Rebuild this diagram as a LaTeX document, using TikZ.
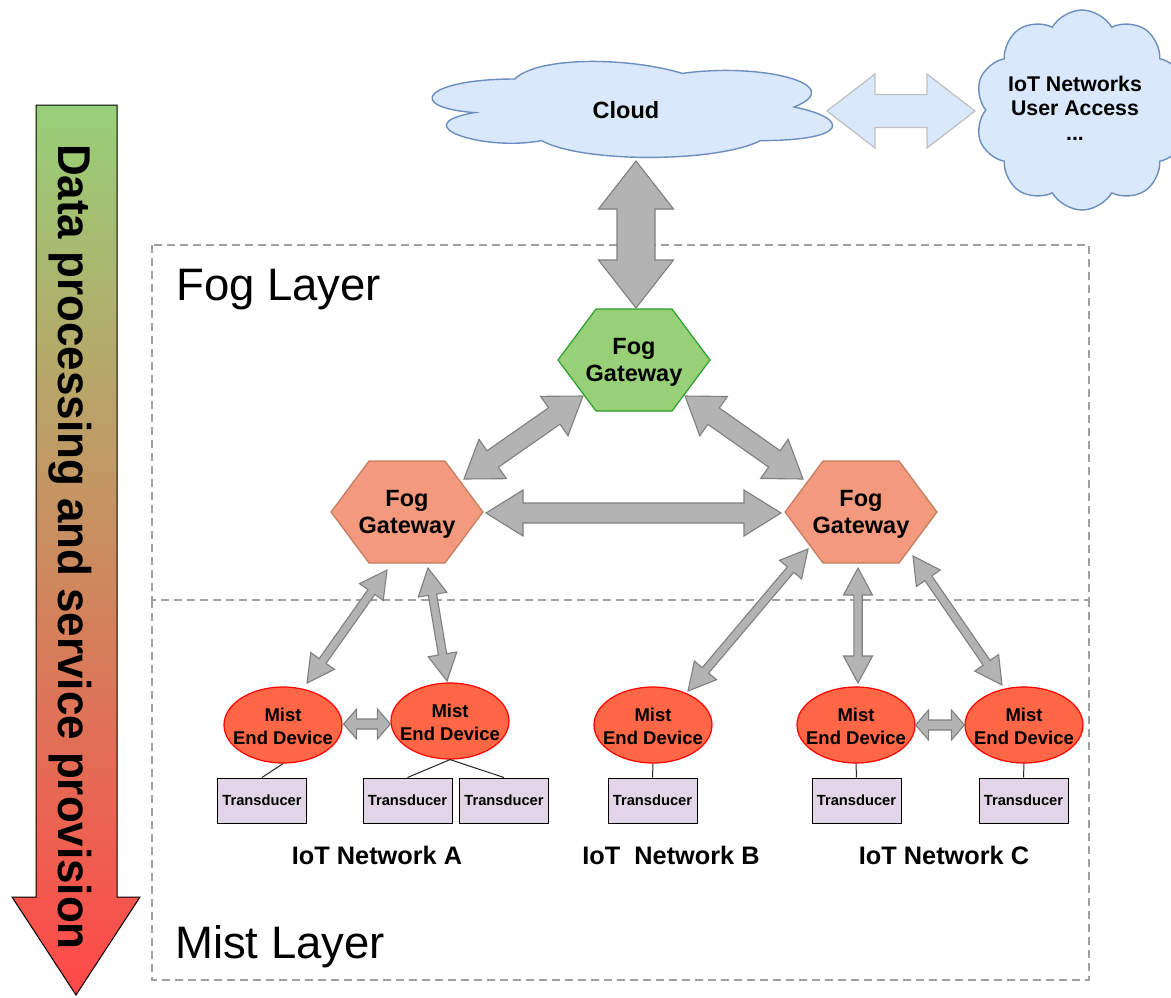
\documentclass[tikz,border=0pt]{standalone}
\usepackage{fontspec}
\setmainfont{Liberation Sans}
\usetikzlibrary{shapes.symbols,shapes.geometric,calc}

\definecolor{cloudfill}{HTML}{DAE8FC}
\definecolor{cloudline}{HTML}{6C8EBF}
\definecolor{arrowfill}{HTML}{B3B3B3}
\definecolor{arrowline}{HTML}{7F7F7F}
\definecolor{lightline}{HTML}{C0C0C0}
\definecolor{fogtop}{HTML}{97D077}
\definecolor{fogtopline}{HTML}{2D9C2D}
\definecolor{fogfill}{HTML}{F3997D}
\definecolor{fogline}{HTML}{C47A5E}
\definecolor{mistfill}{HTML}{FF6746}
\definecolor{mistline}{HTML}{FF0000}
\definecolor{transfill}{HTML}{E1D5E7}
\definecolor{layerline}{HTML}{A0A0A0}
\definecolor{gradtop}{HTML}{97D077}
\definecolor{gradbottom}{HTML}{FF4848}

% double-headed block arrow between two named coordinates
% #1 extra style, #2 from, #3 to, #4 shaft half width, #5 head half width, #6 head length
\makeatletter
\newcommand\fatarrow[6][]{%
  \pgfpointdiff{\pgfpointanchor{#2}{center}}{\pgfpointanchor{#3}{center}}%
  \edef\fa@dx{\the\pgf@x}\edef\fa@dy{\the\pgf@y}%
  \pgfmathsetmacro\fa@len{veclen(\fa@dx,\fa@dy)}%
  \pgfmathsetmacro\fa@ang{atan2(\fa@dy,\fa@dx)}%
  \pgfmathsetmacro\fa@m{\fa@len-#6}%
  \draw[bigarrow,#1,shift={(#2)},rotate=\fa@ang]
    (0pt,0pt) -- (#6pt,#5pt) -- (#6pt,#4pt) -- (\fa@m pt,#4pt) -- (\fa@m pt,#5pt)
    -- (\fa@len pt,0pt) -- (\fa@m pt,-#5pt) -- (\fa@m pt,-#4pt) -- (#6pt,-#4pt)
    -- (#6pt,-#5pt) -- cycle;}
\makeatother

% flat-topped hexagon around a named coordinate
\newcommand\hexshape[2]{%
  \draw[#2] ([shift={(-76,0)}]#1) -- ([shift={(-38,-51)}]#1) -- ([shift={(38,-51)}]#1)
    -- ([shift={(76,0)}]#1) -- ([shift={(38,51)}]#1) -- ([shift={(-38,51)}]#1) -- cycle;}

\tikzset{
  bigarrow/.style={fill=arrowfill, draw=arrowline, line width=1.1pt, line join=miter},
  lightarrow/.style={fill=cloudfill, draw=lightline, line width=1.3pt},
  layerbox/.style={draw=layerline, line width=2pt, dash pattern=on 8pt off 5pt},
  cloudbody/.style={fill=cloudfill, draw=cloudline, line width=1.4pt},
  topgw/.style={fill=fogtop, draw=fogtopline, line width=1.2pt},
  sidegw/.style={fill=fogfill, draw=fogline, line width=1.2pt},
  gwtext/.style={align=center, inner sep=0pt, font=\fontsize{23.5}{27}\selectfont\bfseries},
  mist/.style={ellipse, fill=mistfill, draw=mistline, line width=1.2pt,
    minimum width=118pt, minimum height=76pt, inner sep=0pt},
  misttext/.style={align=center, inner sep=0pt, font=\fontsize{18.5}{23}\selectfont\bfseries},
  trans/.style={rectangle, fill=transfill, draw=black, line width=1pt,
    minimum width=89pt, minimum height=45pt, inner sep=0pt,
    font=\fontsize{14.7}{17}\selectfont\bfseries},
  link/.style={draw=black!85, line width=1pt},
  netlabel/.style={inner sep=0pt, font=\fontsize{25.3}{29}\selectfont\bfseries},
  layerlabel/.style={anchor=base west, inner sep=0pt, font=\fontsize{45.5}{50}\selectfont},
}

\begin{document}
\begin{tikzpicture}[x=1pt, y=-1pt]
\useasboundingbox (0,0) rectangle (1171,997);

% layer frames
\draw[layerbox] (152,245) rectangle (1089,600);
\draw[layerbox] (152,600) -- (152,980) -- (1089,980) -- (1089,600);
\node[layerlabel] (foglabel) at (176,300) {Fog Layer};
\node[layerlabel] (mistlabel) at (175,958) {Mist Layer};

% direction arrow on the left
\shade[top color=gradtop, bottom color=gradbottom]
  (36,105) -- (117,105) -- (117,897) -- (140,897) -- (76,995) -- (12,897) -- (36,897) -- cycle;
\draw[line width=1pt, black]
  (36,105) -- (117,105) -- (117,897) -- (140,897) -- (76,995) -- (12,897) -- (36,897) -- cycle;
\node[rotate=-90, anchor=base, inner sep=0pt, font=\fontsize{46}{50}\selectfont\bfseries]
  (flow) at (58,547) {\scalebox{0.955}[1]{Data processing and service provision}};

% cloud
\begin{scope}[shift={(403,51)}, x=447pt, y=-112pt]
  \draw[cloudbody] (0.25,0.25)
    .. controls (0.05,0.25) and (0,0.5) .. (0.16,0.55)
    .. controls (0,0.66) and (0.18,0.9) .. (0.31,0.8)
    .. controls (0.4,1) and (0.7,1) .. (0.8,0.8)
    .. controls (1,0.8) and (1,0.6) .. (0.875,0.5)
    .. controls (1,0.3) and (0.8,0.1) .. (0.625,0.2)
    .. controls (0.5,0.05) and (0.3,0.05) .. (0.25,0.25) -- cycle;
\end{scope}
\node[inner sep=0pt, font=\fontsize{23.5}{27}\selectfont\bfseries] (cloud) at (626,110) {Cloud};

% user access cloud
\node[cloud, cloud puffs=10, cloud puff arc=120, aspect=1, minimum width=214pt,
  minimum height=200pt, cloudbody] (accesscloud) at (1082,110) {};
\node[align=center, inner sep=0pt, font=\fontsize{21.3}{24.5}\selectfont\bfseries]
  (access) at (1075,108) {IoT Networks\\User Access\\...};

% fog gateways
\coordinate (hexT) at (634,360);
\coordinate (hexL) at (407,512);
\coordinate (hexR) at (861,512);
\hexshape{hexT}{topgw}
\hexshape{hexL}{sidegw}
\hexshape{hexR}{sidegw}
\node[gwtext] (gwT) at ([shift={(0,2)}]hexT) {Fog\\Gateway};
\node[gwtext] (gwL) at ([shift={(0,2)}]hexL) {Fog\\Gateway};
\node[gwtext] (gwR) at ([shift={(0,2)}]hexR) {Fog\\Gateway};

% mist end devices
\node[mist] (A1) at (283,725) {};
\node[mist] (A2) at (450,721) {};
\node[mist] (B)  at (653,725) {};
\node[mist] (C1) at (856,725) {};
\node[mist] (C2) at (1024,725) {};
\foreach \m in {A1,A2,B,C1,C2}
  \node[misttext] at ([shift={(0,1.5)}]\m) {Mist\\End Device};

% transducers
\node[trans] (tA1)  at (262,800.5) {Transducer};
\node[trans] (tA2a) at (407.5,800.5) {Transducer};
\node[trans] (tA2b) at (504,800.5) {Transducer};
\node[trans] (tB)   at (652.5,800.5) {Transducer};
\node[trans] (tC1)  at (856.5,800.5) {Transducer};
\node[trans] (tC2)  at (1023.5,800.5) {Transducer};
\draw[link] (A1.south) -- (tA1.north);
\draw[link] (A2.south) -- (tA2a.north);
\draw[link] (A2.south) -- (tA2b.north);
\draw[link] (B.south) -- (tB.north);
\draw[link] (C1.south) -- (tC1.north);
\draw[link] (C2.south) -- (tC2.north);

% network names
\node[netlabel] (netA) at (377,855) {IoT Network A};
\node[netlabel] (netB) at (671,855) {IoT\ \ Network B};
\node[netlabel] (netC) at (944,855) {IoT Network C};

% arrow end points
\coordinate (cl-s)  at ($(cloud)+(10,51)$);
\coordinate (gT-n)  at ($(hexT)+(2,-52)$);
\coordinate (cl-e)  at ($(cloud)+(201,1)$);
\coordinate (ac-w)  at ($(access)+(-100,3)$);
\coordinate (gL-ne) at ($(hexL)+(57,-33)$);
\coordinate (gT-sw) at ($(hexT)+(-51,36)$);
\coordinate (gT-se) at ($(hexT)+(51,36)$);
\coordinate (gR-nw) at ($(hexR)+(-58,-33)$);
\coordinate (gL-e)  at ($(hexL)+(79,1)$);
\coordinate (gR-w)  at ($(hexR)+(-80,1)$);
\coordinate (gL-s1) at ($(hexL)+(-20,58)$);
\coordinate (A1-n)  at ($(A1)+(24,-42)$);
\coordinate (gL-s2) at ($(hexL)+(21,56)$);
\coordinate (A2-n)  at ($(A2)+(-3,-40)$);
\coordinate (gR-s1) at ($(hexR)+(-53,37)$);
\coordinate (B-n)   at ($(B)+(35,-34)$);
\coordinate (gR-s2) at ($(hexR)+(-3,56)$);
\coordinate (C1-n)  at ($(C1)+(2,-42)$);
\coordinate (gR-s3) at ($(hexR)+(52,44)$);
\coordinate (C2-n)  at ($(C2)+(-22,-40)$);
\coordinate (A1-e)  at ($(A1.east)+(1,-1)$);
\coordinate (A2-w)  at (A1-e -| A2.west);
\coordinate (C1-e)  at (C1.east);
\coordinate (C2-w)  at (C2.west);

% links
\fatarrow{cl-s}{gT-n}{19}{37.5}{48}
\fatarrow[lightarrow]{cl-e}{ac-w}{16.5}{37}{48}
\fatarrow{gL-ne}{gT-sw}{10}{24}{35}
\fatarrow{gT-se}{gR-nw}{10}{24}{35}
\fatarrow{gL-e}{gR-w}{10}{23}{37}
\fatarrow{gL-s1}{A1-n}{4.2}{14.5}{27}
\fatarrow{gL-s2}{A2-n}{4.2}{14.5}{27}
\fatarrow{gR-s1}{B-n}{4.2}{14.5}{27}
\fatarrow{gR-s2}{C1-n}{4.2}{14.5}{27}
\fatarrow{gR-s3}{C2-n}{4.2}{14.5}{27}
\fatarrow{A1-e}{A2-w}{5}{15}{13}
\fatarrow{C1-e}{C2-w}{5}{15}{13}
\end{tikzpicture}
\end{document}
